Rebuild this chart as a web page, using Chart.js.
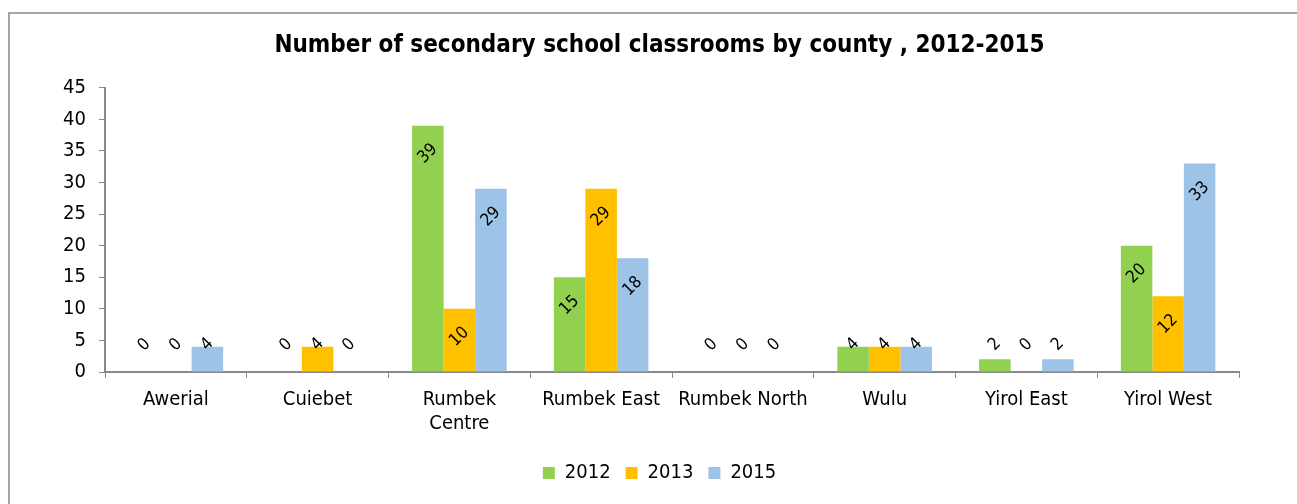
<!DOCTYPE html>
<html>
<head>
<meta charset="utf-8">
<title>Secondary school classrooms by county</title>
<script src="https://cdn.jsdelivr.net/npm/chart.js@4/dist/chart.umd.min.js"></script>
<style>
  html, body { margin: 0; padding: 0; background: #fff; overflow: hidden; }
  .frame {
    position: absolute; left: 8px; top: 12px; width: 1400px; height: 600px;
    border: 2px solid #a6a6a6; box-sizing: border-box;
  }
  .wrap { position: absolute; left: 0; top: 0; width: 1297px; height: 504px; }
</style>
</head>
<body>
<div class="frame"></div>
<div class="wrap"><canvas id="classrooms"></canvas></div>
<script>
  const FONT = '"DejaVu Sans Condensed", "DejaVu Sans", sans-serif';

  const counties = ['Awerial', 'Cuiebet', ['Rumbek', 'Centre'], 'Rumbek East', 'Rumbek North', 'Wulu', 'Yirol East', 'Yirol West'];
  const years = ['2012', '2013', '2015'];
  const rooms2012 = [0, 0, 39, 15, 0, 4, 2, 20];
  const rooms2013 = [0, 4, 10, 29, 0, 4, 0, 12];
  const rooms2015 = [4, 0, 29, 18, 0, 4, 2, 33];
  const yTicks = [0, 5, 10, 15, 20, 25, 30, 35, 40, 45];

  const seriesColors = ['#92d050', '#ffc000', '#9dc3e6'];

  // value labels, tilted, just inside the top of each bar
  const barLabels = {
    id: 'barLabels',
    afterDatasetsDraw(chart) {
      const ctx = chart.ctx;
      ctx.save();
      ctx.font = '17px ' + FONT;
      ctx.fillStyle = '#000';
      ctx.textAlign = 'center';
      ctx.textBaseline = 'middle';
      chart.data.datasets.forEach((ds, i) => {
        chart.getDatasetMeta(i).data.forEach((bar, j) => {
          const y = Math.min(bar.y + 28, bar.base - 27);
          ctx.save();
          ctx.translate(bar.x, y);
          ctx.rotate(-Math.PI / 4);
          ctx.fillText(String(ds.data[j]), 0, 0);
          ctx.restore();
        });
      });
      ctx.restore();
    }
  };

  new Chart(document.getElementById('classrooms'), {
    type: 'bar',
    data: {
      labels: counties,
      datasets: [rooms2012, rooms2013, rooms2015].map((vals, i) => ({
        label: years[i],
        data: vals,
        backgroundColor: seriesColors[i],
        borderWidth: 0,
        categoryPercentage: 0.667,
        barPercentage: 1,
      })),
    },
    options: {
      responsive: true,
      maintainAspectRatio: false,
      animation: false,
      devicePixelRatio: 1,
      layout: { padding: { left: 40, right: 18, top: 0, bottom: 11 } },
      plugins: {
        title: {
          display: true,
          text: 'Number of secondary school classrooms by county , 2012-2015',
          color: '#000',
          font: { family: FONT, size: 24, weight: 'bold', lineHeight: 1.2 },
          padding: { top: 31, bottom: 28 },
        },
        legend: {
          position: 'bottom',
          labels: {
            color: '#000',
            font: { family: FONT, size: 20 },
            boxWidth: 12,
            boxHeight: 12,
            padding: 15,
          },
        },
        tooltip: { enabled: false },
      },
      scales: {
        x: {
          grid: { display: true, drawOnChartArea: false, drawTicks: true, tickLength: 6, color: '#898989', offset: true },
          border: { color: '#898989', width: 2 },
          ticks: { color: '#000', font: { family: FONT, size: 20, lineHeight: 1.2 }, padding: 10, maxRotation: 0, autoSkip: false },
          afterFit(scale) {
            scale.height = 504 - 11 - 372 - scale.chart.legend.height;
          },
        },
        y: {
          min: 0,
          max: 45,
          afterBuildTicks(scale) {
            scale.ticks = yTicks.map(v => ({ value: v }));
          },
          grid: { display: true, drawOnChartArea: false, drawTicks: true, tickLength: 6, color: '#898989' },
          border: { color: '#898989', width: 2 },
          ticks: { color: '#000', font: { family: FONT, size: 20 }, padding: 13 },
          afterFit(scale) {
            scale.width = 65;
          },
        },
        // empty spacer on the right so the plot stops short of the frame
        spacer: {
          type: 'linear',
          position: 'right',
          min: 0,
          max: 45,
          grid: { display: false },
          border: { display: false },
          ticks: { display: false },
          afterFit(scale) {
            scale.width = 40;
          },
        },
      },
    },
    plugins: [barLabels],
  });
</script>
</body>
</html>
